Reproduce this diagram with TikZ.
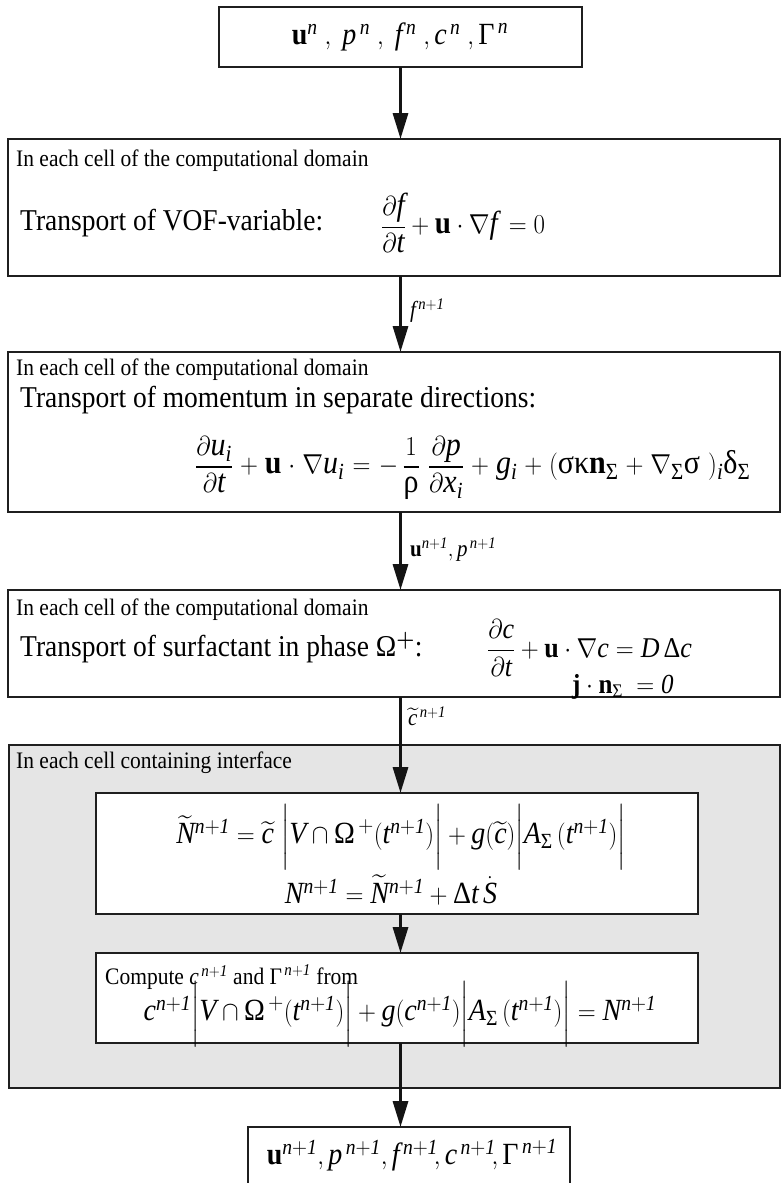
\documentclass[tikz,border=0pt]{standalone}
\usepackage{amsmath}
\usepackage{fontspec}
\setmainfont{Liberation Serif}
\usepackage{graphicx}
\usetikzlibrary{arrows.meta}
\edef\tfam{\rmdefault}
\DeclareSymbolFont{tlet}{TU}{\tfam}{m}{it}
\newcount\mycnt
\mycnt=`a
\loop \Umathcode\mycnt=7 \symtlet \mycnt \advance\mycnt 1 \ifnum\mycnt<`\{ \repeat
\mycnt=`A
\loop \Umathcode\mycnt=7 \symtlet \mycnt \advance\mycnt 1 \ifnum\mycnt<`\[ \repeat
\newcommand{\gk}[1]{\text{\upshape #1}}
\newcommand{\one}{\mathit{1}}
\newcommand{\tall}[1]{\scalebox{1}[1.1]{#1}}
\newcommand{\GG}{\gk{Γ}}
\newcommand{\OO}{\gk{Ω}}
\newcommand{\SSg}{\gk{Σ}}
\begin{document}
\begin{tikzpicture}[x=1pt,y=-1pt,
 box/.style={draw=black!88, line width=2pt, fill=white, inner sep=0pt, outer sep=0pt},
 graybox/.style={draw=black!88, line width=2pt, fill=black!10, inner sep=0pt, outer sep=0pt},
 arr/.style={line width=3.2pt, draw=black!92, -{Triangle[length=26pt,width=15pt]}},
 head/.style={anchor=west, inner sep=0pt, font=\fontsize{21.5}{24}\selectfont},
 big/.style={anchor=west, inner sep=0pt, font=\fontsize{27.5}{32}\selectfont},
 eq/.style={inner sep=0pt, font=\fontsize{28}{32}\selectfont},
 lab/.style={anchor=west, inner sep=0pt, font=\fontsize{21}{24}\selectfont}]
\useasboundingbox (0,0) rectangle (781,1183);
\clip (0,0) rectangle (781,1183);
% boxes
\node[box, minimum width=363pt, minimum height=60pt] (top) at (400.5,37) {};
\node[box, minimum width=772pt, minimum height=137pt] (vof) at (394,207.5) {};
\node[box, minimum width=772pt, minimum height=160pt] (mom) at (394,432) {};
\node[box, minimum width=772pt, minimum height=107pt] (surf) at (394,643.5) {};
\node[graybox, minimum width=771pt, minimum height=343pt] (gray) at (394.5,916.5) {};
\node[box, minimum width=602pt, minimum height=121pt] (b1) at (397,853.5) {};
\node[box, minimum width=602pt, minimum height=90pt] (b2) at (397,998) {};
\node[box, minimum width=322pt, minimum height=68pt] (bot) at (409,1161) {};
% texts
\node[eq] (t0) at (400,37) {\tall{$\mathbf{u}^{n}\;,\;p^{\,n}\;,\;f^{\,n}\;,c^{\,n}\;,\GG^{\,n}$}};
\node[head] (h1) at (16,161) {\tall{In each cell of the computational domain}};
\node[big] (v1) at (20,223) {\tall{Transport of VOF-variable:}};
\node[eq, anchor=west, font=\fontsize{29}{32}\selectfont] (v2) at (381,223) {\tall{$\dfrac{\partial f}{\partial t} + \mathbf{u}\cdot\nabla f\, = 0$}};
\node[head] (h2) at (16,370) {\tall{In each cell of the computational domain}};
\node[big] (m1) at (20,400) {\tall{Transport of momentum in separate directions:}};
\node[eq, anchor=west, font=\fontsize{30}{34}\selectfont] (m2) at (195,468) {\tall{\medmuskip=5mu plus 1mu\thickmuskip=6mu plus 1mu$\dfrac{\partial u_i}{\partial t} + \mathbf{u}\cdot\nabla u_i = -\,\dfrac{1}{\gk{ρ}}\;\dfrac{\partial p}{\partial x_i} + g_i + (\gk{σκ}\mathbf{n}_{\SSg} + \nabla_{\SSg}\gk{σ}\;)_i\gk{δ}_{\SSg}$}};
\node[head] (h3) at (16,610) {\tall{In each cell of the computational domain}};
\node[big] (s1) at (20,648) {\tall{Transport of surfactant in phase \OO$^{\boldsymbol{+}}$:}};
\node[eq, anchor=west, font=\fontsize{26}{30}\selectfont] (s2) at (487,648) {\tall{$\dfrac{\partial c}{\partial t} + \mathbf{u}\cdot\nabla c = D\,\gk{Δ} c$}};
\node[eq, anchor=west, font=\fontsize{25}{30}\selectfont] (s3) at (572,687) {\tall{$\mathbf{j}\cdot\mathbf{n}_{\SSg}\ = \mathit{0}$}};
\node[head] (h4) at (16,763) {\tall{In each cell containing interface}};
\node[eq] (e1) at (401,837) {\tall{$\widetilde{N}^{n+\one} = \widetilde{c}\;\bigg|V\cap\OO^{\,+}(t^{n+\one})\bigg| + g(\widetilde{c})\bigg|A_{\SSg}\,(t^{n+\one})\bigg|$}};
\node[eq] (e2) at (391,890) {\tall{$N^{n+\one} = \widetilde{N}^{n+\one} + \gk{Δ} t\,\dot{S}$}};
\node[head] (c1) at (105,977) {\tall{Compute $c^{\,n+\one}$ and $\GG^{\,n+\one}$ from}};
\node[eq] (c2) at (400,1014) {\tall{$c^{n+\one}\bigg|V\cap\OO^{\,+}(t^{n+\one})\bigg| + g(c^{n+\one})\bigg|A_{\SSg}\,(t^{n+\one})\bigg| = N^{n+\one}$}};
\node[eq] (t9) at (412,1155) {\tall{$\mathbf{u}^{n+\one}, p^{\,n+\one}, f^{\,n+\one}\!,c^{\,n+\one}\!,\GG^{\,n+\one}$}};
% arrows
\draw[arr] (top.south) -- (top.south |- vof.north);
\draw[arr] (top.south |- vof.south) -- (top.south |- mom.north) node[lab, pos=0.46, xshift=8pt] {\tall{$f^{\,n+\one}$}};
\draw[arr] (top.south |- mom.south) -- (top.south |- surf.north) node[lab, pos=0.48, xshift=8pt] {\tall{$\mathbf{u}^{n+\one}, p^{\,n+\one}$}};
\draw[arr] (top.south |- surf.south) -- (top.south |- b1.north) node[lab, pos=0.2, xshift=6pt] {\tall{$\widetilde{c}^{\,n+\one}$}};
\draw[arr] (top.south |- b1.south) -- (top.south |- b2.north);
\draw[arr] (top.south |- b2.south) -- (top.south |- bot.north);
\end{tikzpicture}
\end{document}
